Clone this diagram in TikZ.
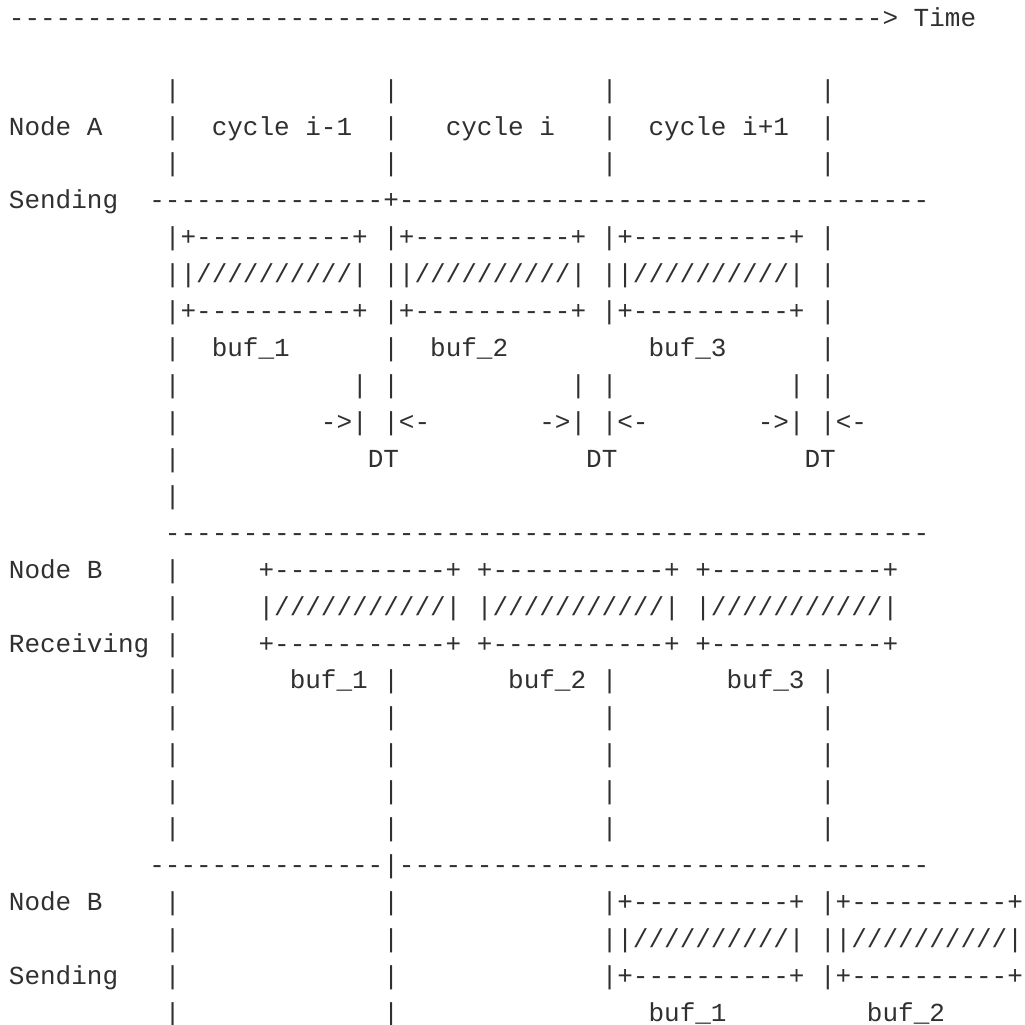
\documentclass[tikz,border=0pt]{standalone}
\usepackage{fontspec}
\newfontfamily\mono{Liberation Mono}
\definecolor{ink}{HTML}{303030}

% repeat a character n times
\newcount\repk
\newcommand\rep[2]{\repk=#1\relax\loop\ifnum\repk>0 #2\advance\repk by -1\relax\repeat}

\tikzset{
  txt/.style={anchor=base west, inner sep=0pt, outer sep=0pt, text=ink,
              font=\mono\fontsize{13pt}{13pt}\selectfont},
}
% place a text run on the character grid: row, column, text
\newcommand\seg[3]{\node[txt] (r#1c#2) at ({4.475pt+#2*7.8pt},{-67.5pt-(#1-3)*18.465pt}) {#3};}

\begin{document}
\begin{tikzpicture}
\useasboundingbox (0pt,0pt) rectangle (512.5pt,-512.5pt);
\fill[white] (0pt,0pt) rectangle (512.5pt,-512.5pt);

% time axis
\node[txt] (r0c0) at (4.475pt,-13.3pt) {\rep{56}{-}> Time};

% Node A sending
\seg{2}{10}{|}\seg{2}{24}{|}\seg{2}{38}{|}\seg{2}{52}{|}
\seg{3}{0}{Node A}\seg{3}{10}{|}\seg{3}{13}{cycle i-1}\seg{3}{24}{|}
\seg{3}{28}{cycle i}\seg{3}{38}{|}\seg{3}{41}{cycle i+1}\seg{3}{52}{|}
\seg{4}{10}{|}\seg{4}{24}{|}\seg{4}{38}{|}\seg{4}{52}{|}
\seg{5}{0}{Sending}\seg{5}{9}{\rep{15}{-}+\rep{34}{-}}
\seg{6}{10}{|+----------+ |+----------+ |+----------+ |}
\seg{7}{10}{||//////////| ||//////////| ||//////////| |}
\seg{8}{10}{|+----------+ |+----------+ |+----------+ |}
\seg{9}{10}{|}\seg{9}{13}{buf\_1}\seg{9}{24}{|}\seg{9}{27}{buf\_2}
\seg{9}{41}{buf\_3}\seg{9}{52}{|}
\seg{10}{10}{|}\seg{10}{22}{| |}\seg{10}{36}{| |}\seg{10}{50}{| |}
\seg{11}{10}{|}\seg{11}{20}{->| |<-}\seg{11}{34}{->| |<-}\seg{11}{48}{->| |<-}
\seg{12}{10}{|}\seg{12}{23}{DT}\seg{12}{37}{DT}\seg{12}{51}{DT}
\seg{13}{10}{|}

% Node B receiving
\seg{14}{10}{\rep{49}{-}}
\seg{15}{0}{Node B}\seg{15}{10}{|}
\seg{15}{16}{+-----------+ +-----------+ +-----------+}
\seg{16}{10}{|}\seg{16}{16}{|///////////| |///////////| |///////////|}
\seg{17}{0}{Receiving}\seg{17}{10}{|}
\seg{17}{16}{+-----------+ +-----------+ +-----------+}
\seg{18}{10}{|}\seg{18}{18}{buf\_1 |}\seg{18}{32}{buf\_2 |}\seg{18}{46}{buf\_3 |}
\foreach \r in {19,...,22}{
  \seg{\r}{10}{|}\seg{\r}{24}{|}\seg{\r}{38}{|}\seg{\r}{52}{|}
}

% Node B sending
\seg{23}{9}{\rep{15}{-}|\rep{34}{-}}
\seg{24}{0}{Node B}\seg{24}{10}{|}\seg{24}{24}{|}
\seg{24}{38}{|+----------+ |+----------+}
\seg{25}{10}{|}\seg{25}{24}{|}\seg{25}{38}{||//////////| ||//////////|}
\seg{26}{0}{Sending}\seg{26}{10}{|}\seg{26}{24}{|}
\seg{26}{38}{|+----------+ |+----------+}
\seg{27}{10}{|}\seg{27}{24}{|}\seg{27}{41}{buf\_1}\seg{27}{55}{buf\_2}
\end{tikzpicture}
\end{document}
